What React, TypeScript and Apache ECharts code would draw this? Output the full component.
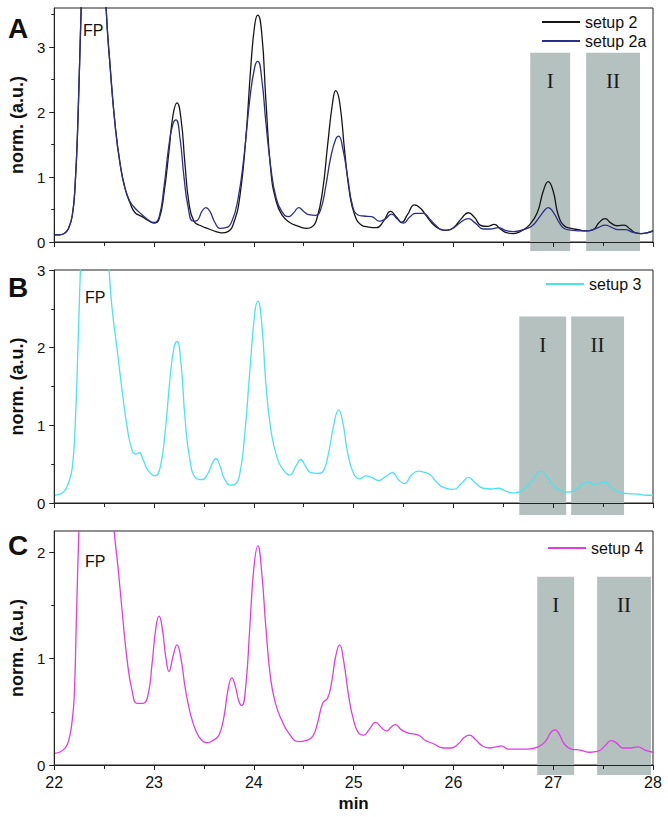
import { useEffect, useRef } from "react";
import * as echarts from "echarts";

const FONT = "'Liberation Sans', Arial, sans-serif";
const SERIF = "'Liberation Serif', 'Times New Roman', serif";

// x axis (min)
const xMin = 22;
const xMax = 28;

// y axis ticks per panel
const yMaxA = 3.6;
const yMaxB = 3;
const yMaxC = 2.2;
const yTicksA = [0, 1, 2, 3];
const yMinorA = [0.5, 1.5, 2.5, 3.5];
const yTicksB = [0, 1, 2, 3];
const yMinorB = [0.5, 1.5, 2.5];
const yTicksC = [0, 1, 2];
const yMinorC = [0.5, 1.5];

// series names
const namesA = ["setup 2", "setup 2a"];
const namesB = ["setup 3"];
const namesC = ["setup 4"];

// [min, norm]
const setup2: [number, number][] = [
  [22.0, 0.11], [22.05, 0.11], [22.1, 0.13], [22.14, 0.2], [22.18, 0.4], [22.21, 0.9],
  [22.24, 2.0], [22.27, 3.6], [22.31, 5.2], [22.36, 6.2], [22.42, 6.4], [22.47, 5.6],
  [22.52, 3.6], [22.56, 2.7], [22.61, 1.8], [22.66, 1.2], [22.71, 0.82], [22.76, 0.6],
  [22.81, 0.45], [22.88, 0.39], [22.94, 0.33], [23.0, 0.29], [23.05, 0.35], [23.1, 0.75],
  [23.15, 1.4], [23.19, 1.95], [23.23, 2.14], [23.27, 1.9], [23.31, 1.2], [23.35, 0.6],
  [23.4, 0.32], [23.47, 0.25], [23.55, 0.2], [23.62, 0.16], [23.68, 0.14], [23.74, 0.16],
  [23.8, 0.3], [23.86, 0.7], [23.92, 1.6], [23.97, 2.7], [24.01, 3.35], [24.04, 3.49],
  [24.08, 3.2], [24.12, 2.2], [24.17, 1.1], [24.22, 0.65], [24.28, 0.42], [24.36, 0.3],
  [24.45, 0.24], [24.53, 0.21], [24.58, 0.23], [24.63, 0.35], [24.69, 0.8], [24.74, 1.5],
  [24.79, 2.15], [24.82, 2.33], [24.86, 2.15], [24.91, 1.4], [24.96, 0.75], [25.01, 0.42],
  [25.07, 0.27], [25.15, 0.23], [25.23, 0.22], [25.3, 0.32], [25.37, 0.47], [25.43, 0.38],
  [25.48, 0.3], [25.54, 0.42], [25.61, 0.57], [25.67, 0.52], [25.72, 0.42], [25.78, 0.3],
  [25.85, 0.21], [25.92, 0.18], [26.0, 0.22], [26.08, 0.36], [26.15, 0.45], [26.21, 0.38],
  [26.28, 0.25], [26.34, 0.24], [26.41, 0.27], [26.47, 0.2], [26.54, 0.14], [26.6, 0.13],
  [26.68, 0.17], [26.76, 0.26], [26.84, 0.45], [26.9, 0.78], [26.95, 0.93], [27.0, 0.78],
  [27.05, 0.42], [27.11, 0.25], [27.18, 0.21], [27.25, 0.19], [27.33, 0.17], [27.4, 0.19],
  [27.46, 0.3], [27.52, 0.36], [27.58, 0.29], [27.64, 0.25], [27.71, 0.26], [27.77, 0.2],
  [27.83, 0.14], [27.88, 0.13], [27.94, 0.14], [28.0, 0.17],
];

const setup2a: [number, number][] = [
  [22.0, 0.11], [22.05, 0.11], [22.1, 0.13], [22.14, 0.2], [22.18, 0.4], [22.21, 0.9],
  [22.24, 2.0], [22.27, 3.6], [22.31, 5.2], [22.36, 6.2], [22.42, 6.4], [22.47, 5.6],
  [22.52, 3.6], [22.56, 2.7], [22.61, 1.8], [22.66, 1.2], [22.71, 0.82], [22.76, 0.62],
  [22.81, 0.52], [22.88, 0.42], [22.94, 0.34], [23.0, 0.3], [23.05, 0.38], [23.1, 0.85],
  [23.15, 1.5], [23.19, 1.82], [23.22, 1.88], [23.26, 1.6], [23.3, 1.0], [23.34, 0.55],
  [23.39, 0.32], [23.43, 0.33], [23.48, 0.47], [23.52, 0.53], [23.56, 0.47], [23.61, 0.3],
  [23.66, 0.21], [23.72, 0.22], [23.78, 0.32], [23.84, 0.65], [23.9, 1.3], [23.96, 2.2],
  [24.01, 2.7], [24.04, 2.78], [24.08, 2.5], [24.12, 1.85], [24.17, 1.15], [24.22, 0.7],
  [24.28, 0.47], [24.35, 0.39], [24.4, 0.45], [24.45, 0.53], [24.5, 0.47], [24.55, 0.42],
  [24.62, 0.41], [24.67, 0.5], [24.72, 0.85], [24.77, 1.3], [24.82, 1.58], [24.85, 1.63],
  [24.89, 1.45], [24.94, 1.0], [24.99, 0.55], [25.04, 0.42], [25.1, 0.4], [25.18, 0.39],
  [25.26, 0.32], [25.32, 0.36], [25.38, 0.43], [25.44, 0.35], [25.5, 0.29], [25.56, 0.38],
  [25.62, 0.44], [25.7, 0.44], [25.76, 0.36], [25.82, 0.26], [25.9, 0.18], [25.98, 0.2],
  [26.07, 0.3], [26.15, 0.36], [26.22, 0.29], [26.3, 0.2], [26.37, 0.2], [26.45, 0.22],
  [26.52, 0.18], [26.6, 0.16], [26.7, 0.19], [26.79, 0.25], [26.86, 0.38], [26.92, 0.5],
  [26.95, 0.53], [27.0, 0.46], [27.06, 0.3], [27.12, 0.2], [27.2, 0.18], [27.3, 0.17],
  [27.38, 0.18], [27.45, 0.22], [27.52, 0.26], [27.58, 0.23], [27.65, 0.19], [27.72, 0.19],
  [27.8, 0.15], [27.88, 0.13], [27.94, 0.14], [28.0, 0.17],
];

const setup3: [number, number][] = [
  [22.0, 0.1], [22.05, 0.11], [22.1, 0.15], [22.14, 0.25], [22.18, 0.45], [22.21, 1.0],
  [22.24, 2.1], [22.27, 3.3], [22.31, 4.6], [22.36, 5.4], [22.42, 5.5], [22.47, 4.8],
  [22.52, 3.6], [22.55, 3.0], [22.58, 2.5], [22.63, 1.98], [22.68, 1.45], [22.73, 0.98],
  [22.78, 0.68], [22.82, 0.63], [22.85, 0.65], [22.89, 0.56], [22.94, 0.42], [23.01, 0.35],
  [23.06, 0.45], [23.11, 0.9], [23.16, 1.6], [23.2, 2.0], [23.23, 2.08], [23.27, 1.8],
  [23.31, 1.1], [23.36, 0.55], [23.42, 0.32], [23.48, 0.3], [23.54, 0.38], [23.59, 0.53],
  [23.62, 0.57], [23.66, 0.48], [23.71, 0.3], [23.77, 0.23], [23.81, 0.24], [23.86, 0.38],
  [23.91, 0.9], [23.96, 1.7], [24.01, 2.45], [24.04, 2.6], [24.08, 2.3], [24.12, 1.55],
  [24.17, 0.95], [24.23, 0.6], [24.3, 0.42], [24.36, 0.36], [24.42, 0.47], [24.47, 0.56],
  [24.52, 0.47], [24.57, 0.39], [24.65, 0.38], [24.7, 0.42], [24.75, 0.65], [24.8, 1.0],
  [24.85, 1.2], [24.89, 1.05], [24.94, 0.65], [25.0, 0.38], [25.06, 0.31], [25.12, 0.35],
  [25.18, 0.33], [25.25, 0.29], [25.32, 0.34], [25.39, 0.39], [25.45, 0.3], [25.51, 0.25],
  [25.58, 0.36], [25.65, 0.41], [25.72, 0.39], [25.77, 0.36], [25.83, 0.27], [25.9, 0.2],
  [26.0, 0.175], [26.08, 0.25], [26.15, 0.33], [26.22, 0.26], [26.3, 0.19], [26.38, 0.18],
  [26.45, 0.19], [26.53, 0.15], [26.61, 0.13], [26.7, 0.17], [26.78, 0.27], [26.84, 0.38],
  [26.88, 0.41], [26.93, 0.35], [27.0, 0.23], [27.07, 0.16], [27.15, 0.14], [27.22, 0.17],
  [27.29, 0.24], [27.35, 0.27], [27.4, 0.24], [27.45, 0.25], [27.52, 0.27], [27.58, 0.2],
  [27.66, 0.14], [27.75, 0.12], [27.85, 0.115], [27.93, 0.1], [28.0, 0.1],
];

const setup4: [number, number][] = [
  [22.0, 0.11], [22.05, 0.12], [22.11, 0.16], [22.15, 0.25], [22.18, 0.42], [22.2, 0.64],
  [22.22, 1.3], [22.25, 2.3], [22.3, 3.6], [22.36, 4.3], [22.43, 4.4], [22.5, 3.8],
  [22.56, 2.7], [22.6, 2.2], [22.64, 1.85], [22.68, 1.45], [22.73, 0.99], [22.78, 0.7],
  [22.83, 0.58], [22.89, 0.58], [22.94, 0.66], [22.98, 0.95], [23.02, 1.3], [23.05, 1.4],
  [23.08, 1.3], [23.12, 1.0], [23.15, 0.88], [23.19, 1.02], [23.23, 1.13], [23.27, 1.0],
  [23.31, 0.74], [23.36, 0.5], [23.42, 0.32], [23.48, 0.23], [23.53, 0.21], [23.59, 0.23],
  [23.65, 0.28], [23.7, 0.45], [23.74, 0.7], [23.78, 0.82], [23.82, 0.72], [23.85, 0.6],
  [23.88, 0.56], [23.92, 0.75], [23.96, 1.3], [24.0, 1.85], [24.04, 2.06], [24.08, 1.8],
  [24.12, 1.3], [24.17, 0.8], [24.22, 0.57], [24.28, 0.42], [24.35, 0.3], [24.45, 0.22],
  [24.52, 0.23], [24.59, 0.27], [24.64, 0.4], [24.69, 0.58], [24.74, 0.63], [24.78, 0.78],
  [24.82, 1.02], [24.86, 1.13], [24.9, 0.98], [24.95, 0.65], [25.0, 0.42], [25.05, 0.3],
  [25.1, 0.28], [25.16, 0.34], [25.22, 0.4], [25.28, 0.35], [25.33, 0.32], [25.38, 0.36],
  [25.42, 0.38], [25.48, 0.33], [25.55, 0.3], [25.65, 0.28], [25.72, 0.23], [25.8, 0.2],
  [25.9, 0.16], [25.98, 0.16], [26.05, 0.2], [26.11, 0.26], [26.16, 0.28], [26.22, 0.24],
  [26.29, 0.18], [26.36, 0.16], [26.43, 0.17], [26.48, 0.18], [26.55, 0.15], [26.65, 0.15],
  [26.75, 0.15], [26.85, 0.17], [26.92, 0.22], [26.98, 0.31], [27.02, 0.33], [27.06, 0.29],
  [27.11, 0.2], [27.18, 0.15], [27.27, 0.14], [27.37, 0.12], [27.45, 0.13], [27.52, 0.18],
  [27.58, 0.23], [27.63, 0.21], [27.7, 0.16], [27.77, 0.16], [27.85, 0.17], [27.92, 0.14],
  [28.0, 0.12],
];

// shaded regions: [from, to, top, bottom]
const regionLabels = ["I", "II"];
const regionsA: [number, number, number, number][] = [
  [26.77, 27.17, 2.91, -0.14],
  [27.33, 27.87, 2.91, -0.14],
];
const regionsB: [number, number, number, number][] = [
  [26.66, 27.13, 2.4, -0.155],
  [27.18, 27.71, 2.4, -0.155],
];
const regionsC: [number, number, number, number][] = [
  [26.84, 27.21, 1.77, -0.095],
  [27.44, 27.98, 1.77, -0.095],
];

const colors: Record<string, string> = {
  "setup 2": "#151515",
  "setup 2a": "#2c2f8a",
  "setup 3": "#4be3ee",
  "setup 4": "#e23ce2",
};

const AXIS_COLOR = "#222";

function xAxis(gridIndex: number, withLabels: boolean) {
  return {
    type: "value",
    gridIndex,
    min: xMin,
    max: xMax,
    interval: 1,
    z: 5,
    axisLine: { show: true, onZero: false, lineStyle: { color: AXIS_COLOR, width: 1 } },
    axisTick: { show: true, inside: false, length: 5, lineStyle: { color: AXIS_COLOR } },
    minorTick: { show: true, splitNumber: 2, length: 4, lineStyle: { color: AXIS_COLOR } },
    axisLabel: {
      show: withLabels,
      fontSize: 16,
      color: "#111",
      fontFamily: FONT,
      margin: 9,
    },
    splitLine: { show: false },
    name: withLabels ? "min" : "",
    nameLocation: "middle",
    nameGap: 30,
    nameTextStyle: { fontSize: 17, fontWeight: "bold", color: "#111", fontFamily: FONT },
  };
}

function yAxisMain(gridIndex: number, max: number, ticks: number[]) {
  return {
    type: "value",
    gridIndex,
    position: "left",
    min: 0,
    max,
    interval: 1,
    z: 5,
    axisLine: { show: true, onZero: false, lineStyle: { color: AXIS_COLOR, width: 1 } },
    axisTick: { show: true, inside: false, length: 5, customValues: ticks, lineStyle: { color: AXIS_COLOR } },
    axisLabel: {
      customValues: ticks,
      fontSize: 15,
      color: "#111",
      fontFamily: FONT,
      margin: 9,
    },
    splitLine: { show: false },
    name: "norm. (a.u.)",
    nameLocation: "middle",
    nameGap: 26,
    nameTextStyle: { fontSize: 18, fontWeight: "bold", color: "#111", fontFamily: FONT },
  };
}

function yAxisMinor(gridIndex: number, max: number, ticks: number[]) {
  return {
    type: "value",
    gridIndex,
    position: "left",
    offset: 0,
    min: 0,
    max,
    interval: 0.5,
    z: 5,
    axisLine: { show: false },
    axisTick: { show: true, inside: false, length: 3, customValues: ticks, lineStyle: { color: AXIS_COLOR } },
    axisLabel: { show: false },
    splitLine: { show: false },
  };
}

function lineSeries(name: string, data: [number, number][], axisIdx: number, yIdx: number) {
  return {
    type: "line",
    name,
    xAxisIndex: axisIdx,
    yAxisIndex: yIdx,
    data,
    symbol: "none",
    smooth: 0.5,
    clip: true,
    z: 3,
    lineStyle: { color: colors[name], width: 1.3 },
    itemStyle: { color: colors[name] },
  };
}

function regionSeries(regions: [number, number, number, number][], axisIdx: number, yIdx: number) {
  return {
    type: "custom",
    xAxisIndex: axisIdx,
    yAxisIndex: yIdx,
    clip: false,
    z: 1,
    silent: true,
    data: regions,
    encode: { x: [0, 1], y: [2, 3] },
    renderItem: (params: any, api: any) => {
      const r = regions[params.dataIndex];
      const p0 = api.coord([r[0], r[2]]);
      const p1 = api.coord([r[1], r[3]]);
      return {
        type: "group",
        children: [
          {
            type: "rect",
            shape: { x: p0[0], y: p0[1], width: p1[0] - p0[0], height: p1[1] - p0[1] },
            style: { fill: "#b5c1bf" },
          },
          {
            type: "text",
            x: (p0[0] + p1[0]) / 2,
            y: p0[1] + 28,
            style: {
              text: regionLabels[params.dataIndex],
              fill: "#1a1a1a",
              fontSize: 21,
              fontFamily: SERIF,
              align: "center",
              verticalAlign: "middle",
            },
          },
        ],
      };
    },
  };
}

function legend(names: string[], left: number, top: number) {
  return {
    data: names,
    orient: "vertical",
    left,
    top,
    padding: 0,
    itemWidth: 38,
    itemHeight: 14,
    itemGap: 3,
    selectedMode: false,
    itemStyle: { opacity: 0 },
    textStyle: { fontSize: 16, color: "#111", fontFamily: FONT, lineHeight: 16 },
  };
}

export default function App() {
  const ref = useRef<HTMLDivElement>(null);

  useEffect(() => {
    if (!ref.current) return;
    const chart = echarts.init(ref.current, undefined, { renderer: "svg" });
    const grids = [
      { left: 52, right: 15, top: 8, height: 234 },
      { left: 52, right: 15, top: 270, height: 233 },
      { left: 52, right: 15, top: 531, height: 234 },
    ].map((g) => ({ ...g, show: true, borderColor: AXIS_COLOR, borderWidth: 1, backgroundColor: "transparent" }));

    const option: any = {
      animation: false,
      backgroundColor: "#ffffff",
      grid: grids,
      xAxis: [xAxis(0, false), xAxis(1, false), xAxis(2, true)],
      yAxis: [
        yAxisMain(0, yMaxA, yTicksA),
        yAxisMinor(0, yMaxA, yMinorA),
        yAxisMain(1, yMaxB, yTicksB),
        yAxisMinor(1, yMaxB, yMinorB),
        yAxisMain(2, yMaxC, yTicksC),
        yAxisMinor(2, yMaxC, yMinorC),
      ],
      legend: [legend(namesA, 541, 14), legend(namesB, 545, 276), legend(namesC, 547, 540)],
      series: [
        regionSeries(regionsA, 0, 0),
        regionSeries(regionsB, 1, 2),
        regionSeries(regionsC, 2, 4),
        lineSeries("setup 2", setup2, 0, 0),
        lineSeries("setup 2a", setup2a, 0, 0),
        lineSeries("setup 3", setup3, 1, 2),
        lineSeries("setup 4", setup4, 2, 4),
      ],
      graphic: [
        { type: "text", x: 8, y: 28, style: { text: "A", font: `bold 28px ${FONT}`, fill: "#111", verticalAlign: "middle" } },
        { type: "text", x: 8, y: 287, style: { text: "B", font: `bold 28px ${FONT}`, fill: "#111", verticalAlign: "middle" } },
        { type: "text", x: 8, y: 545, style: { text: "C", font: `bold 28px ${FONT}`, fill: "#111", verticalAlign: "middle" } },
        { type: "text", x: 83, y: 30, z: 10, style: { text: "FP", font: `16px ${FONT}`, fill: "#111", verticalAlign: "middle" } },
        { type: "text", x: 85, y: 297, z: 10, style: { text: "FP", font: `16px ${FONT}`, fill: "#111", verticalAlign: "middle" } },
        { type: "text", x: 85, y: 561, z: 10, style: { text: "FP", font: `16px ${FONT}`, fill: "#111", verticalAlign: "middle" } },
      ],
    };
    chart.setOption(option);
    return () => chart.dispose();
  }, []);

  return (
    <div
      ref={ref}
      style={{ position: "absolute", left: 0, top: 0, width: 668, height: 817, background: "#fff" }}
    />
  );
}
